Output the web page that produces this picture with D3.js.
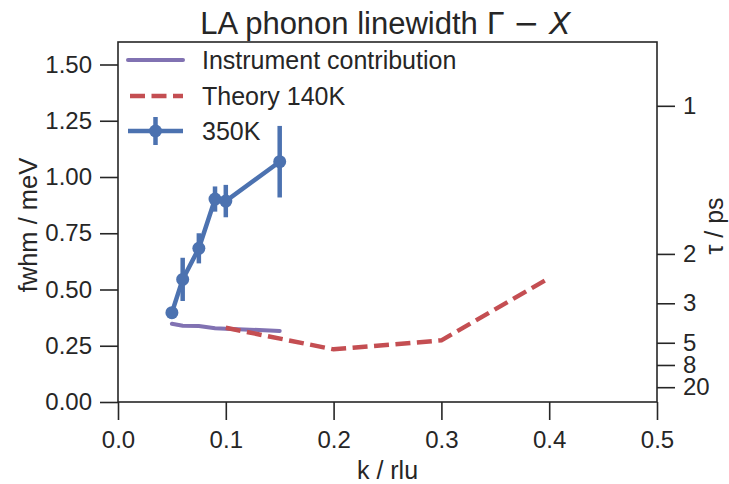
<!DOCTYPE html>
<html>
<head>
<meta charset="utf-8">
<script src="https://cdn.jsdelivr.net/npm/d3@7"></script>
<style>
  body { margin: 0; background: #fff; }
  text { font-family: "Liberation Sans", Arial, sans-serif; fill: #262626; }
</style>
</head>
<body>
<div id="chart"></div>
<script>
// datos
var k350 = [0.05, 0.06, 0.075, 0.09, 0.10, 0.15];
var fwhm350 = [0.397, 0.545, 0.683, 0.902, 0.893, 1.068];
var err350 = [0.02, 0.096, 0.067, 0.056, 0.072, 0.159];

var kInst = [0.05, 0.06, 0.075, 0.09, 0.10, 0.15];
var fwhmInst = [0.348, 0.339, 0.338, 0.328, 0.326, 0.316];

var kTheory = [0.10, 0.20, 0.30, 0.40];
var fwhmTheory = [0.33, 0.234, 0.274, 0.551];

var xTicks = [0, 0.1, 0.2, 0.3, 0.4, 0.5];
var yTicks = [0, 0.25, 0.5, 0.75, 1.0, 1.25, 1.5];
var tauTicks = [1, 2, 3, 5, 8, 20];
var legendNames = ["Instrument contribution", "Theory 140K", "350K"];

var hbar2 = 2 * 0.6582; // meV ps, tau = 2 hbar / fwhm

var W = 729, H = 484;
var margin = {top: 42, right: 72, bottom: 82, left: 118};
var width = W - margin.left - margin.right,
    height = H - margin.top - margin.bottom;

var blue = "#4C72B0", red = "#C44E52", purple = "#8172B2", ink = "#262626";

var svg = d3.select("#chart").append("svg")
  .attr("width", W)
  .attr("height", H);

var g = svg.append("g")
  .attr("transform", "translate(" + margin.left + "," + margin.top + ")");

var x = d3.scaleLinear().domain([0, 0.5]).range([0, width]);
var y = d3.scaleLinear().domain([0, 1.6]).range([height, 0]);

// ejes
var xAxis = g.append("g")
  .attr("transform", "translate(0," + height + ")")
  .call(d3.axisBottom(x).tickValues(xTicks).tickFormat(d3.format(".1f")).tickSize(18).tickPadding(11));
var yAxis = g.append("g")
  .call(d3.axisLeft(y).tickValues(yTicks).tickFormat(d3.format(".2f")).tickSize(18).tickPadding(8));
var rAxis = g.append("g")
  .attr("transform", "translate(" + width + ",0)")
  .call(d3.axisRight(y)
    .tickValues(tauTicks.map(function(t) { return hbar2 / t; }))
    .tickFormat(function(d, i) { return tauTicks[i]; })
    .tickSize(18).tickPadding(8));

[xAxis, yAxis, rAxis].forEach(function(a) {
  a.select(".domain").remove();
  a.selectAll(".tick line").attr("stroke", ink).attr("stroke-width", 1.6);
  a.selectAll(".tick text").attr("font-size", 24).attr("font-family", "Liberation Sans, Arial, sans-serif").attr("fill", ink);
});

g.append("rect")
  .attr("width", width)
  .attr("height", height)
  .attr("fill", "none")
  .attr("stroke", ink)
  .attr("stroke-width", 1.6);

// lineas
var line = d3.line()
  .x(function(d) { return x(d[0]); })
  .y(function(d) { return y(d[1]); });

g.append("path")
  .datum(d3.zip(kInst, fwhmInst))
  .attr("d", line)
  .attr("fill", "none")
  .attr("stroke", purple)
  .attr("stroke-width", 4)
  .attr("stroke-linecap", "round");

g.append("path")
  .datum(d3.zip(kTheory, fwhmTheory))
  .attr("d", line)
  .attr("fill", "none")
  .attr("stroke", red)
  .attr("stroke-width", 4.5)
  .attr("stroke-dasharray", "15,6.5");

var pts = d3.zip(k350, fwhm350, err350);

g.append("path")
  .datum(pts)
  .attr("d", line)
  .attr("fill", "none")
  .attr("stroke", blue)
  .attr("stroke-width", 4.5);

g.selectAll(".err")
  .data(pts)
  .enter()
  .append("line")
  .attr("x1", function(d) { return x(d[0]); })
  .attr("x2", function(d) { return x(d[0]); })
  .attr("y1", function(d) { return y(d[1] - d[2]); })
  .attr("y2", function(d) { return y(d[1] + d[2]); })
  .attr("stroke", blue)
  .attr("stroke-width", 4.5);

g.selectAll(".dot")
  .data(pts)
  .enter()
  .append("circle")
  .attr("cx", function(d) { return x(d[0]); })
  .attr("cy", function(d) { return y(d[1]); })
  .attr("r", 6.5)
  .attr("fill", blue);

// titulos
var title = svg.append("text")
  .attr("x", margin.left + width / 2 - 2)
  .attr("y", 34)
  .attr("text-anchor", "middle")
  .attr("font-size", 31);
title.append("tspan").text("LA phonon linewidth ");
title.append("tspan").attr("font-family", "DejaVu Sans").text("Γ − ");
title.append("tspan").attr("font-family", "DejaVu Sans").attr("font-style", "italic").text("X");

svg.append("text")
  .attr("x", margin.left + width / 2)
  .attr("y", 479)
  .attr("text-anchor", "middle")
  .attr("font-size", 25)
  .text("k / rlu");

svg.append("text")
  .attr("transform", "translate(37," + (margin.top + height / 2 + 3) + ") rotate(-90)")
  .attr("text-anchor", "middle")
  .attr("font-size", 25.5)
  .text("fwhm / meV");

svg.append("text")
  .attr("transform", "translate(723," + (margin.top + height / 2 + 4) + ") rotate(-90)")
  .attr("text-anchor", "middle")
  .attr("font-size", 25)
  .text("τ / ps");

// leyenda
var rows = [60, 96, 131];
var lg = svg.append("g");
lg.append("line").attr("x1", 128).attr("x2", 183).attr("y1", rows[0]).attr("y2", rows[0])
  .attr("stroke", purple).attr("stroke-width", 4).attr("stroke-linecap", "round");
lg.append("line").attr("x1", 130).attr("x2", 183).attr("y1", rows[1]).attr("y2", rows[1])
  .attr("stroke", red).attr("stroke-width", 4.5).attr("stroke-dasharray", "15,6.5");
lg.append("line").attr("x1", 128).attr("x2", 183).attr("y1", rows[2]).attr("y2", rows[2])
  .attr("stroke", blue).attr("stroke-width", 4.5);
lg.append("line").attr("x1", 155.5).attr("x2", 155.5).attr("y1", rows[2] - 14).attr("y2", rows[2] + 14)
  .attr("stroke", blue).attr("stroke-width", 4.5);
lg.append("circle").attr("cx", 155.5).attr("cy", rows[2]).attr("r", 6.5).attr("fill", blue);

lg.selectAll(".lab")
  .data(legendNames)
  .enter()
  .append("text")
  .attr("x", 202)
  .attr("y", function(d, i) { return rows[i] + 9; })
  .attr("font-size", 25)
  .text(function(d) { return d; });
</script>
</body>
</html>
